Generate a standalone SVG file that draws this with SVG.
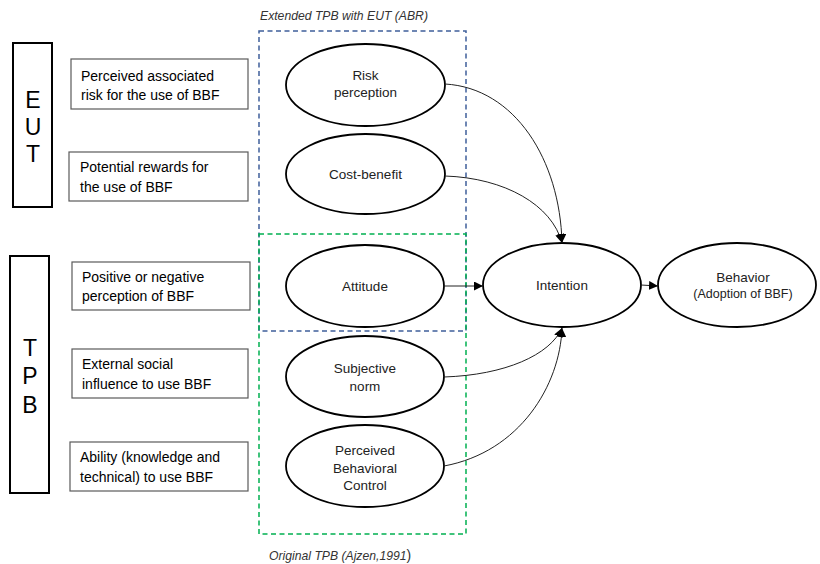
<svg xmlns="http://www.w3.org/2000/svg" width="820" height="564" viewBox="0 0 820 564">
<style>
.bg{fill:#fff}
.side{fill:#fff;stroke:#000;stroke-width:2}
.big{font-family:"Liberation Sans",Arial,sans-serif;font-size:23px;fill:#000;text-anchor:middle}
.box{fill:#fff;stroke:#5a5a5a;stroke-width:1.2}
.t{font-family:"Liberation Sans",Arial,sans-serif;font-size:14px;fill:#000}
.ell{fill:#fff;stroke:#000;stroke-width:1.8}
.et{font-family:"Liberation Sans",Arial,sans-serif;font-size:13.5px;fill:#222;text-anchor:middle}
.small{font-size:12.5px}
.blue{fill:none;stroke:#3f5f9a;stroke-width:1.5;stroke-dasharray:5,3.5}
.green{fill:none;stroke:#00b050;stroke-width:1.5;stroke-dasharray:5,3.5}
.lab{font-family:"Liberation Sans",Arial,sans-serif;font-size:12.2px;font-style:italic;fill:#333}
.con{fill:none;stroke:#222;stroke-width:1}
</style>
<defs>
<marker id="arr" viewBox="0 0 10 10" refX="10" refY="5" markerWidth="9" markerHeight="9" markerUnits="userSpaceOnUse" orient="auto">
<path d="M0,0 L10,5 L0,10 Z" fill="#000"/>
</marker>
</defs>
<rect class="bg" x="0" y="0" width="820" height="564"/>

<g id="frame-extended">
<rect class="blue" x="259" y="31" width="207" height="300"/>
<text class="lab" x="260" y="20">Extended TPB with EUT (ABR)</text>
</g>
<g id="frame-original">
<rect class="green" x="259" y="234" width="207" height="300"/>
<text class="lab" x="269" y="560">Original TPB (Ajzen,1991<tspan font-style="normal" font-size="14px">)</tspan></text>
</g>

<g id="eut">
<rect class="side" x="13" y="43" width="39" height="164"/>
<text class="big" x="33" y="108">E</text>
<text class="big" x="33" y="135">U</text>
<text class="big" x="33" y="162">T</text>
</g>
<g id="tpb">
<rect class="side" x="10" y="256" width="39" height="237"/>
<text class="big" x="30" y="356">T</text>
<text class="big" x="30" y="384">P</text>
<text class="big" x="30" y="413">B</text>
</g>

<g id="box-risk">
<rect class="box" x="71" y="59" width="177" height="50"/>
<text class="t" x="81" y="81">Perceived associated</text>
<text class="t" x="81" y="100">risk for the use of BBF</text>
</g>
<g id="box-rewards">
<rect class="box" x="69" y="152" width="179" height="49"/>
<text class="t" x="80" y="172">Potential rewards for</text>
<text class="t" x="80" y="192">the use of BBF</text>
</g>
<g id="box-perception">
<rect class="box" x="72" y="262" width="178" height="48"/>
<text class="t" x="82" y="282">Positive or negative</text>
<text class="t" x="82" y="301">perception of BBF</text>
</g>
<g id="box-social">
<rect class="box" x="72" y="349" width="176" height="49"/>
<text class="t" x="82" y="369">External social</text>
<text class="t" x="82" y="389">influence to use BBF</text>
</g>
<g id="box-ability">
<rect class="box" x="70" y="442" width="178" height="49"/>
<text class="t" x="80" y="462">Ability (knowledge and</text>
<text class="t" x="80" y="482">technical) to use BBF</text>
</g>

<g id="risk-perception">
<ellipse class="ell" cx="365.5" cy="85" rx="79.5" ry="41"/>
<text class="et" x="365.5" y="80">Risk</text>
<text class="et" x="365.5" y="97">perception</text>
</g>
<g id="cost-benefit">
<ellipse class="ell" cx="365.5" cy="174" rx="79.5" ry="40"/>
<text class="et" x="365.5" y="179">Cost-benefit</text>
</g>
<g id="attitude">
<ellipse class="ell" cx="365" cy="286" rx="79" ry="41"/>
<text class="et" x="365" y="291">Attitude</text>
</g>
<g id="subjective-norm">
<ellipse class="ell" cx="365" cy="376.5" rx="79" ry="40.5"/>
<text class="et" x="365" y="373">Subjective</text>
<text class="et" x="365" y="391">norm</text>
</g>
<g id="pbc">
<ellipse class="ell" cx="365" cy="466" rx="79" ry="41"/>
<text class="et" x="365" y="455">Perceived</text>
<text class="et" x="365" y="473">Behavioral</text>
<text class="et" x="365" y="490">Control</text>
</g>
<g id="intention">
<ellipse class="ell" cx="562" cy="285" rx="79" ry="42"/>
<text class="et" x="562" y="290">Intention</text>
</g>
<g id="behavior">
<ellipse class="ell" cx="737" cy="285" rx="79" ry="42"/>
<text class="et" x="743" y="282">Behavior</text>
<text class="et small" x="743" y="298">(Adoption of BBF)</text>
</g>

<g id="connectors">
<path class="con" d="M445,84 C515,88 560,160 562,243" marker-end="url(#arr)"/>
<path class="con" d="M445,176 C505,178 552,205 562,243" marker-end="url(#arr)"/>
<path class="con" d="M444,286 L483,286" marker-end="url(#arr)"/>
<path class="con" d="M641,285 L658,286" marker-end="url(#arr)"/>
<path class="con" d="M444,377 C505,375 550,355 562,328" marker-end="url(#arr)"/>
<path class="con" d="M444,466 C520,452 560,385 562,328" marker-end="url(#arr)"/>
</g>
</svg>
